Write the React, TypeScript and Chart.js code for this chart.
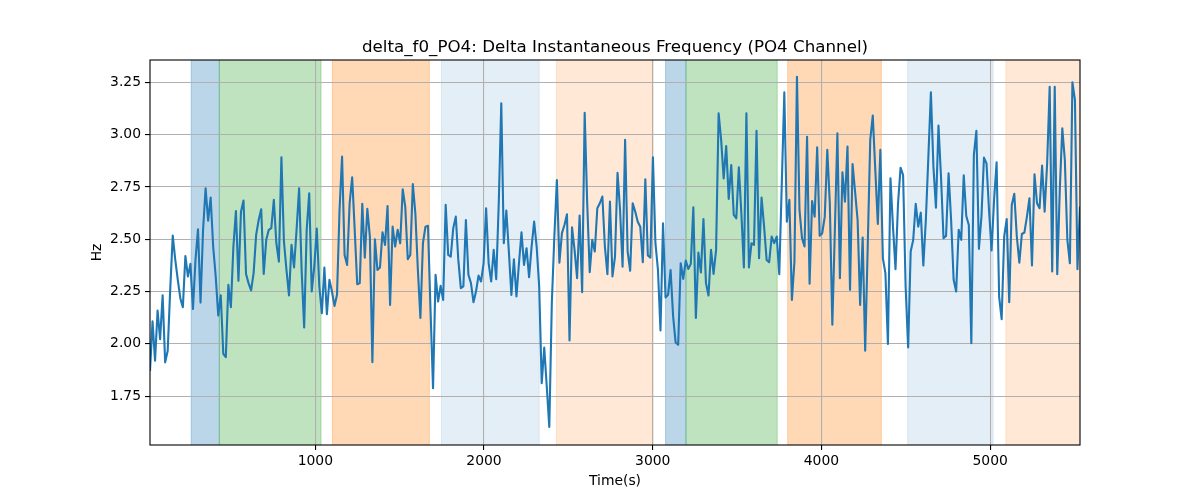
import React, { useEffect, useRef } from "react";
import { Chart, registerables } from "chart.js";

Chart.register(...registerables);

// ---- data ----
const T_START = 20;
const T_STEP = 14.98;

const SEG_A = [1.87, 2.107, 1.919, 2.159, 2.022, 2.232, 1.911, 1.967, 2.26, 2.517, 2.401, 2.306, 2.218, 2.175, 2.42, 2.322, 2.382, 2.166, 2.401, 2.548, 2.197, 2.545, 2.744, 2.589, 2.699, 2.465, 2.322, 2.135, 2.232, 1.952, 1.936, 2.282, 2.175, 2.465, 2.635, 2.301, 2.632, 2.685, 2.334, 2.29, 2.255, 2.338, 2.521, 2.592, 2.643, 2.334, 2.497, 2.545];
const SEG_B = [2.553, 2.688, 2.481, 2.393, 2.892, 2.489, 2.353, 2.231, 2.473, 2.365, 2.545, 2.744, 2.353, 2.078, 2.545, 2.72, 2.25, 2.369, 2.551, 2.274, 2.146, 2.365, 2.142, 2.306, 2.25, 2.181, 2.234, 2.64, 2.895, 2.425, 2.377, 2.672, 2.796, 2.545, 2.285, 2.29, 2.669, 2.412, 2.645, 2.513, 1.912, 2.5, 2.353, 2.365, 2.533];
const SEG_C = [2.473, 2.659, 2.186, 2.56, 2.465, 2.545, 2.481, 2.739, 2.656, 2.404, 2.425, 2.764, 2.624, 2.353, 2.123, 2.481, 2.56, 2.564, 2.162, 1.788, 2.33, 2.202, 2.277, 2.21, 2.664, 2.425, 2.417, 2.553, 2.608, 2.401, 2.266, 2.274, 2.592, 2.33, 2.29, 2.199, 2.25, 2.326, 2.298, 2.385, 2.648, 2.385, 2.298, 2.449, 2.309, 2.672, 3.15];
const SEG_D = [2.481, 2.637, 2.441, 2.234, 2.404, 2.226, 2.385, 2.533, 2.377, 2.457, 2.318, 2.465, 2.584, 2.465, 2.274, 1.812, 1.982, 1.796, 1.602, 2.194, 2.513, 2.783, 2.388, 2.529, 2.568, 2.619, 2.016, 2.557, 2.449, 2.314, 2.613, 2.247, 3.105, 2.672, 2.342, 2.497, 2.441, 2.648, 2.672, 2.704, 2.465, 2.333, 2.68, 2.322, 2.417, 2.818];
const SEG_E = [2.64, 2.369, 2.975, 2.441, 2.349, 2.672, 2.632, 2.584, 2.56, 2.39, 2.787, 2.422, 2.412, 2.892, 2.481, 2.353, 2.064, 2.576, 2.221, 2.234, 2.353, 2.131, 2.006, 1.995, 2.385, 2.31, 2.398, 2.358, 2.382, 2.653, 2.123, 2.436, 2.341, 2.596, 2.29, 2.231, 2.449, 2.334, 2.449, 3.102, 2.975, 2.791, 2.946, 2.693, 2.855, 2.616, 2.6];
const SEG_F = [2.844, 2.624, 2.365, 3.102, 2.365, 2.481, 2.473, 3.018, 2.409, 2.699, 2.56, 2.401, 2.39, 2.513, 2.481, 2.513, 2.333, 2.767, 3.202, 2.584, 2.688, 2.21, 2.393, 3.277, 2.64, 2.505, 2.465, 2.99, 2.287, 2.683, 2.608, 2.939, 2.517, 2.529, 2.608, 2.927, 2.672, 2.091, 2.545, 3.006, 2.314, 2.82, 2.68, 2.943, 2.258, 2.86];
const SEG_G = [2.728, 2.592, 2.186, 2.508, 1.967, 2.465, 2.975, 3.091, 2.831, 2.573, 2.927, 2.409, 2.338, 1.999, 2.791, 2.56, 2.357, 2.672, 2.842, 2.807, 2.274, 1.982, 2.441, 2.497, 2.669, 2.56, 2.627, 2.374, 2.592, 2.895, 3.202, 2.847, 2.651, 3.043, 2.799, 2.505, 2.516, 2.815, 2.592, 2.306, 2.25, 2.545, 2.497, 2.806, 2.611, 2.568];
const SEG_H = [2.003, 2.903, 3.018, 2.454, 2.608, 2.89, 2.863, 2.64, 2.446, 2.688, 2.868, 2.226, 2.118, 2.513, 2.596, 2.199, 2.664, 2.717, 2.513, 2.388, 2.525, 2.532, 2.608, 2.696, 2.374, 2.81, 2.672, 2.648, 2.852, 2.632, 2.863, 3.229, 2.346, 3.229, 2.333, 2.736, 3.03, 2.879, 2.497, 2.385, 3.25, 3.166, 2.357, 2.656];

const VALUES = [...SEG_A, ...SEG_B, ...SEG_C, ...SEG_D, ...SEG_E, ...SEG_F, ...SEG_G, ...SEG_H];

const X_TICKS = [1000, 2000, 3000, 4000, 5000];
const Y_TICKS = [1.75, 2.0, 2.25, 2.5, 2.75, 3.0, 3.25];
const Y_MIN = 1.516;
const Y_MAX = 3.357;

const SPAN_START = [264, 431, 1101, 1747, 2429, 3076, 3197, 3800, 4511, 5093];
const SPAN_END = [431, 1034, 1676, 2327, 3003, 3197, 3738, 4355, 5018, 5600];
const SPAN_KIND = ["blue", "green", "orange", "lightblue", "lightorange", "blue", "green", "orange", "lightblue", "lightorange"];

const TITLE = "delta_f0_PO4: Delta Instantaneous Frequency (PO4 Channel)";
const X_LABEL = "Time(s)";
const Y_LABEL = "Hz";

// ---- styles ----
const SPAN_COLORS: Record<string, string> = {
  blue: "rgba(31,119,180,0.3)",
  green: "rgba(44,160,44,0.3)",
  orange: "rgba(255,127,14,0.3)",
  lightblue: "rgba(31,119,180,0.12)",
  lightorange: "rgba(255,127,14,0.17)",
};
const FONT = "DejaVu Sans";

const spanPlugin = {
  id: "spans",
  beforeDraw(chart: any) {
    const { ctx, chartArea: a, scales } = chart;
    const x = scales.x;
    ctx.save();
    ctx.beginPath();
    ctx.rect(a.left, a.top, a.right - a.left, a.bottom - a.top);
    ctx.clip();
    SPAN_START.forEach((s, i) => {
      const x0 = x.getPixelForValue(s);
      const x1 = x.getPixelForValue(SPAN_END[i]);
      const c = SPAN_COLORS[SPAN_KIND[i]];
      ctx.fillStyle = c;
      ctx.fillRect(x0, a.top, x1 - x0, a.bottom - a.top);
      ctx.strokeStyle = c;
      ctx.lineWidth = 1;
      ctx.beginPath();
      ctx.moveTo(x0, a.top);
      ctx.lineTo(x0, a.bottom);
      ctx.moveTo(x1, a.top);
      ctx.lineTo(x1, a.bottom);
      ctx.stroke();
    });
    ctx.restore();
  },
  afterDraw(chart: any) {
    const { ctx, chartArea: a } = chart;
    ctx.save();
    ctx.strokeStyle = "#000";
    ctx.lineWidth = 1.1;
    ctx.strokeRect(a.left, a.top, a.right - a.left, a.bottom - a.top);
    ctx.fillStyle = "#000";
    ctx.textAlign = "center";
    ctx.font = `16.7px "${FONT}"`;
    ctx.textBaseline = "alphabetic";
    const cx = (a.left + a.right) / 2;
    ctx.fillText(TITLE, cx, a.top - 8.5);
    ctx.font = `13.9px "${FONT}"`;
    ctx.textBaseline = "middle";
    ctx.fillText(X_LABEL, cx, 481);
    ctx.translate(97, (a.top + a.bottom) / 2);
    ctx.rotate(-Math.PI / 2);
    ctx.fillText(Y_LABEL, 0, 0);
    ctx.restore();
  },
};

export default function App() {
  const ref = useRef<HTMLCanvasElement>(null);
  useEffect(() => {
    document.body.style.margin = "0";
    const canvas = ref.current;
    if (!canvas) return;
    const times = VALUES.map((_, i) => T_START + i * T_STEP);
    const points = VALUES.map((v, i) => ({ x: times[i], y: v }));
    const chart = new Chart(canvas, {
      type: "line",
      data: {
        datasets: [
          {
            data: points,
            borderColor: "#1f77b4",
            borderWidth: 2.1,
            pointRadius: 0,
            tension: 0,
            fill: false,
            borderJoinStyle: "round",
          } as any,
        ],
      },
      options: {
        animation: false,
        responsive: false,
        devicePixelRatio: 1,
        layout: { padding: { top: 60, right: 120, bottom: 0, left: 0 } },
        plugins: { legend: { display: false }, title: { display: false }, tooltip: { enabled: false } },
        scales: {
          x: {
            type: "linear",
            min: times[0],
            max: times[times.length - 1],
            afterFit: (s: any) => {
              s.height = 55;
            },
            afterBuildTicks: (s: any) => {
              s.ticks = X_TICKS.map((v) => ({ value: v }));
            },
            grid: { color: "#b0b0b0", lineWidth: 1.1, drawTicks: true, tickLength: 5, tickColor: "#000", tickWidth: 1.1 },
            border: { display: false },
            ticks: {
              color: "#000",
              font: { family: FONT, size: 13.9 },
              padding: 3,
              maxRotation: 0,
              autoSkip: false,
              callback: (v: any) => String(v),
            },
          },
          y: {
            type: "linear",
            min: Y_MIN,
            max: Y_MAX,
            afterFit: (s: any) => {
              s.width = 150;
            },
            afterBuildTicks: (s: any) => {
              s.ticks = Y_TICKS.map((v) => ({ value: v }));
            },
            grid: { color: "#b0b0b0", lineWidth: 1.1, drawTicks: true, tickLength: 5, tickColor: "#000", tickWidth: 1.1 },
            border: { display: false },
            ticks: {
              color: "#000",
              font: { family: FONT, size: 13.9 },
              padding: 4,
              callback: (v: any) => Number(v).toFixed(2),
            },
          },
        },
      },
      plugins: [spanPlugin],
    });
    return () => chart.destroy();
  }, []);
  return (
    <div style={{ width: 1200, height: 500 }}>
      <canvas ref={ref} width={1200} height={500} style={{ width: 1200, height: 500, display: "block" }} />
    </div>
  );
}
